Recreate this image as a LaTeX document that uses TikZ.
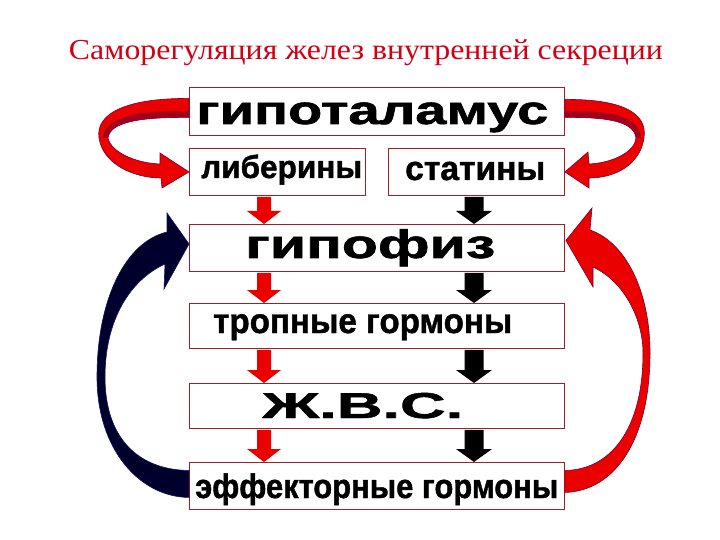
\documentclass[tikz,border=0pt]{standalone}
\usepackage{fontspec}
\setmainfont{Liberation Serif}
\newfontfamily\boxfont{Liberation Sans Bold}[FakeBold=1.3]
\usetikzlibrary{calc}
\definecolor{titlered}{RGB}{210,0,20}
\definecolor{boxedge}{RGB}{160,30,40}
\definecolor{arrred}{RGB}{235,0,0}
\definecolor{arrdark}{RGB}{120,0,50}
\definecolor{arrshade}{RGB}{160,0,30}
\definecolor{navyfill}{RGB}{0,0,45}
\definecolor{navyedge}{RGB}{20,20,90}
\newcommand\boxlbl[3]{\resizebox{#1}{\height}{\fontsize{#2}{#2}\selectfont\boxfont #3}}
\newcommand\vertarrow[5]{%
  \fill[#1] ($(#2)+(-#4,0)$) -- ($(#2)+(#4,0)$) -- ($(#3)+(#4,-13)$) -- ($(#3)+(#5,-13)$)
    -- (#3) -- ($(#3)+(-#5,-13)$) -- ($(#3)+(-#4,-13)$) -- cycle;}
\begin{document}
\begin{tikzpicture}[x=1pt,y=-1pt,
  gbox/.style={draw=boxedge, line width=0.9pt, fill=white, inner sep=0pt, anchor=north west},
  lbl/.style={anchor=base west, inner sep=0pt},
  redfill/.style={fill=arrred},
  blackfill/.style={fill=black},
  bigred/.style={fill=arrred, draw=arrdark, line width=0.6pt},
  bignavy/.style={fill=navyfill, draw=navyedge, line width=0.6pt}]
\fill[white] (0,0) rectangle (720,540);
\useasboundingbox (0,0) rectangle (720,540);

\node[anchor=base, text=titlered, inner sep=0pt] (title) at (366,60)
  {\resizebox{594pt}{\height}{\fontsize{29}{29}\selectfont Саморегуляция желез внутренней секреции}};

% boxes
\node[gbox, minimum width=375pt, minimum height=48pt] (hyp) at (189,87) {};
\node[gbox, minimum width=176pt, minimum height=47pt] (lib) at (189,148) {};
\node[gbox, minimum width=176pt, minimum height=47pt] (stat) at (388,148) {};
\node[gbox, minimum width=375pt, minimum height=47pt] (gip) at (189,224) {};
\node[gbox, minimum width=375pt, minimum height=45pt] (trop) at (189,303) {};
\node[gbox, minimum width=375pt, minimum height=45pt] (zhvs) at (189,383) {};
\node[gbox, minimum width=375pt, minimum height=47pt] (eff) at (189,462) {};

% labels
\node[lbl] (thyp) at (196,124) {\boxlbl{352pt}{40}{гипоталамус}};
\node[lbl] (tlib) at (201,178) {\boxlbl{161pt}{32}{либерины}};
\node[lbl] (tstat) at (405,180) {\boxlbl{140pt}{34}{статины}};
\node[lbl] (tgip) at (245,258) {\boxlbl{250pt}{40}{гипофиз}};
\node[lbl] (ttrop) at (213,333) {\boxlbl{299pt}{35}{тропные гормоны}};
\node[lbl] (tzhvs) at (262,418) {\boxlbl{201pt}{36}{Ж.В.С.}};
\node[lbl] (teff) at (195,498) {\boxlbl{363pt}{34}{эффекторные гормоны}};

% small straight arrows
\coordinate (r1s) at ($(lib.south west)+(75,1)$);  \coordinate (r1e) at ($(gip.north west)+(75,0)$);
\coordinate (r2s) at ($(gip.south west)+(75,1)$);  \coordinate (r2e) at ($(trop.north west)+(75,0)$);
\coordinate (r3s) at ($(trop.south west)+(75,1)$); \coordinate (r3e) at ($(zhvs.north west)+(75,0)$);
\coordinate (r4s) at ($(zhvs.south west)+(75,1)$); \coordinate (r4e) at ($(eff.north west)+(75,0)$);
\coordinate (b1s) at ($(stat.south west)+(86,1)$); \coordinate (b1e) at ($(gip.north west)+(285,0)$);
\coordinate (b2s) at ($(gip.south west)+(285,1)$);  \coordinate (b2e) at ($(trop.north west)+(285,0)$);
\coordinate (b3s) at ($(trop.south west)+(285,1)$); \coordinate (b3e) at ($(zhvs.north west)+(285,0)$);
\coordinate (b4s) at ($(zhvs.south west)+(285,1)$); \coordinate (b4e) at ($(eff.north west)+(285,0)$);
\vertarrow{redfill}{r1s}{r1e}{7}{17}
\vertarrow{redfill}{r2s}{r2e}{7}{17}
\vertarrow{redfill}{r3s}{r3e}{7}{17}
\vertarrow{redfill}{r4s}{r4e}{7}{17}
\vertarrow{blackfill}{b1s}{b1e}{9.5}{18}
\vertarrow{blackfill}{b2s}{b2e}{9.5}{18}
\vertarrow{blackfill}{b3s}{b3e}{9.5}{18}
\vertarrow{blackfill}{b4s}{b4e}{9.5}{18}

% top-left curved arrow: hypothalamus -> liberins
\path[bigred]
  ($(hyp.west)+(0,-13)$) .. controls (130,98) and (95,112) .. (99,138)
  .. controls (103,165) and (135,178) .. (161,178)
  -- (162,188) -- (lib.west) -- (160,153) -- (160,164)
  .. controls (135,163) and (111,152) .. (108,138)
  .. controls (110,122) and (140,117) .. ($(hyp.west)+(0,6)$) -- cycle;
\fill[arrshade] ($(hyp.west)+(0,6)$) .. controls (140,117) and (110,122) .. (108,138)
  -- (103,138) .. controls (105,116) and (140,110) .. ($(hyp.west)+(0,0)$) -- cycle;

% top-right curved arrow: hypothalamus -> statins
\path[bigred]
  ($(hyp.east)+(0,-12)$) .. controls (620,99) and (648,112) .. (644,138)
  .. controls (640,165) and (615,178) .. (589,178)
  -- (589,188) -- (stat.east) -- (588,152) -- (589,164)
  .. controls (612,163) and (635,152) .. (636,138)
  .. controls (634,122) and (610,117) .. ($(hyp.east)+(0,6)$) -- cycle;
\fill[arrshade] ($(hyp.east)+(0,6)$) .. controls (610,117) and (634,122) .. (636,138)
  -- (641,138) .. controls (639,116) and (610,110) .. ($(hyp.east)+(0,0)$) -- cycle;

% big left navy arrow: effector hormones -> hypophysis
\path[bignavy]
  ($(eff.west)+(0,11.5)$) .. controls (140,497) and (97,450) .. (97,377)
  .. controls (97,300) and (125,242) .. (167,232)
  -- (167,213) -- ($(gip.west)+(0,-4)$) -- (164,289) -- (165,264)
  .. controls (130,280) and (105,320) .. (105,377)
  .. controls (105,440) and (140,470) .. ($(eff.west)+(0,-15.5)$) -- cycle;

% big right red arrow: effector hormones -> hypophysis
\path[bigred]
  ($(eff.east)+(0,6.5)$) .. controls (615,491) and (650,440) .. (650,353)
  .. controls (650,290) and (625,242) .. (590,230)
  -- (592,208) -- ($(gip.east)+(1,-7.5)$) -- (593,287) -- (593,267)
  .. controls (625,282) and (643,320) .. (643,353)
  .. controls (643,430) and (610,470) .. ($(eff.east)+(0,-15.5)$) -- cycle;
\end{tikzpicture}
\end{document}
